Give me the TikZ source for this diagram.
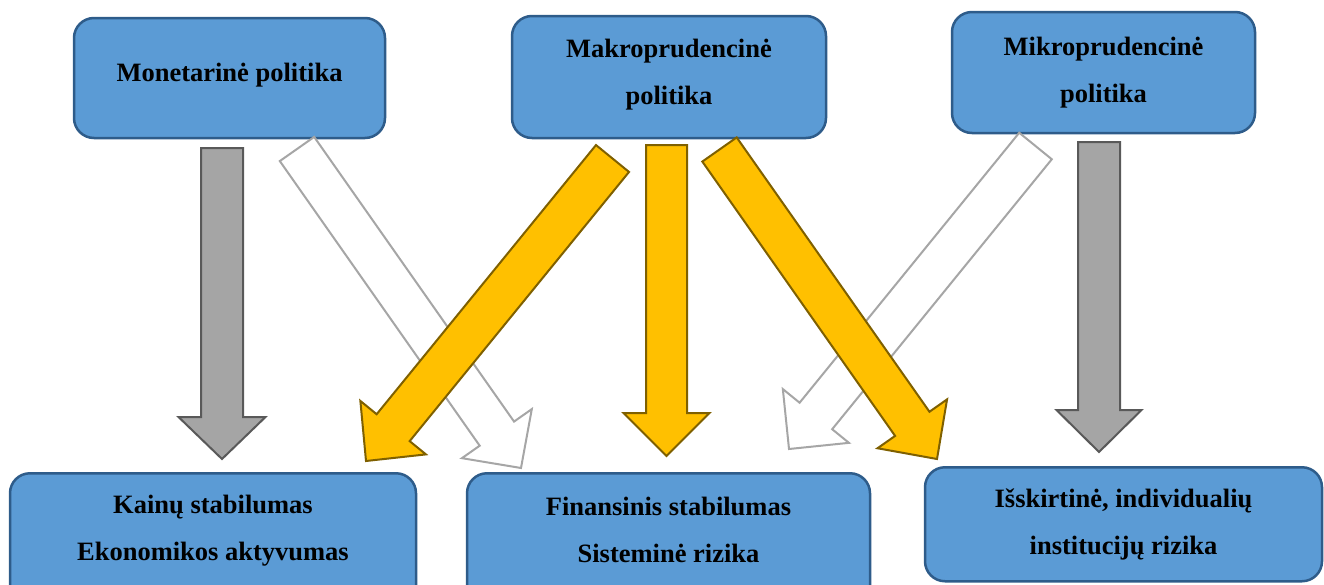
\documentclass[tikz,border=0pt]{standalone}
\usepackage{fontspec}
\setmainfont{Liberation Serif}
\usetikzlibrary{calc}
\definecolor{boxfill}{HTML}{5B9BD5}
\definecolor{boxline}{HTML}{2E5C8A}
\definecolor{orfill}{HTML}{FFC000}
\definecolor{orline}{HTML}{7F6000}
\definecolor{gyfill}{HTML}{A5A5A5}
\definecolor{gyline}{HTML}{595959}
\definecolor{whline}{HTML}{A6A6A6}
\tikzset{
  box/.style={draw=boxline, fill=boxfill, line width=2.5pt, rounded corners=20pt, inner sep=0pt},
  txt/.style={inner sep=0pt, align=center, font=\bfseries\fontsize{26.5}{47}\selectfont},
  orarrow/.style={draw=orline, fill=orfill, line width=2pt, line join=miter},
  gyarrow/.style={draw=gyline, fill=gyfill, line width=2pt, line join=miter},
  wharrow/.style={draw=whline, fill=white, line width=2pt, line join=miter}
}
\newcommand\blockarrow[6]{%
  \path ($(#3)!#6!(#2)$) coordinate (bh);
  \draw[#1] ($(#2)!#4!90:(#3)$) -- ($(bh)!#4!90:(#3)$) -- ($(bh)!#5!90:(#3)$) -- (#3)
    -- ($(bh)!#5!-90:(#3)$) -- ($(bh)!#4!-90:(#3)$) -- ($(#2)!#4!-90:(#3)$) -- cycle;
}
\begin{document}
\begin{tikzpicture}[x=1pt,y=-1pt]
\useasboundingbox (0,0) rectangle (1324,584);
% top boxes
\node[box, minimum width=311pt, minimum height=120pt] (mon) at (229.5,78) {};
\node[box, minimum width=314pt, minimum height=122pt] (makro) at (669,77) {};
\node[box, minimum width=303pt, minimum height=121pt] (mikro) at (1103.5,72.5) {};
% bottom boxes
\node[box, minimum width=406pt, minimum height=150pt, anchor=north] (kain) at (213,472) {};
\node[box, minimum width=403pt, minimum height=150pt, anchor=north] (fin) at (668.5,472) {};
\node[box, minimum width=397pt, minimum height=114pt, anchor=north] (iss) at (1123.5,466) {};
% texts
\node[txt] (tmon) at (229.5,75.5) {Monetarinė politika};
\node[txt] (tmakro) at (669,75) {Makroprudencinė\\politika};
\node[txt] (tmikro) at (1103.5,73) {Mikroprudencinė\\politika};
\node[txt] (tkain) at (213,530.5) {Kainų stabilumas\\Ekonomikos aktyvumas};
\node[txt] (tfin) at (668.5,530) {Finansinis stabilumas\\Sisteminė rizika};
\node[txt] (tiss) at (1123.5,524.5) {Išskirtinė, individualių\\institucijų rizika};
% arrow coordinates
\coordinate (gLs) at (222,148);   \coordinate (gLt) at (222,459);
\coordinate (wLs) at (297,149);   \coordinate (wLt) at (521,468);
\coordinate (oLs) at (612.5,158.5); \coordinate (oLt) at (366,461);
\coordinate (oMs) at (666.5,145); \coordinate (oMt) at (666.5,456);
\coordinate (oRs) at (719.5,149.5); \coordinate (oRt) at (937,459);
\coordinate (wRs) at (1035.5,146); \coordinate (wRt) at (789,449);
\coordinate (gRs) at (1099,142);  \coordinate (gRt) at (1099,452);
% arrows
\blockarrow{wharrow}{wLs}{wLt}{21pt}{42.7pt}{42pt}
\blockarrow{wharrow}{wRs}{wRt}{21pt}{42.6pt}{42.6pt}
\blockarrow{gyarrow}{gLs}{gLt}{21pt}{43.5pt}{42pt}
\blockarrow{gyarrow}{gRs}{gRt}{21pt}{42.5pt}{42pt}
\blockarrow{orarrow}{oLs}{oLt}{21.3pt}{42.3pt}{43pt}
\blockarrow{orarrow}{oMs}{oMt}{20.5pt}{43pt}{43pt}
\blockarrow{orarrow}{oRs}{oRt}{21pt}{42.5pt}{43pt}
\end{tikzpicture}
\end{document}
